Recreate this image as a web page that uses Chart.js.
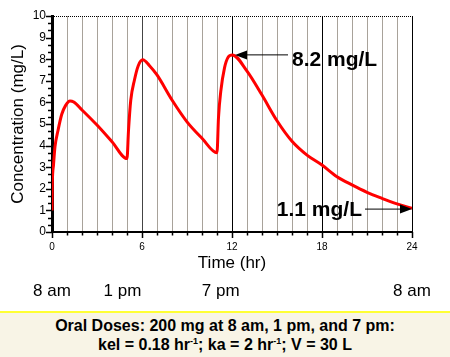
<!DOCTYPE html>
<html>
<head>
<meta charset="utf-8">
<script src="https://cdn.jsdelivr.net/npm/chart.js@4"></script>
<style>
  html, body { margin: 0; padding: 0; background: #ffffff; }
  body { width: 450px; height: 357px; position: relative; overflow: hidden; font-family: "Liberation Sans", Arial, Helvetica, sans-serif; }
  #wrap { position: absolute; left: 0; top: 0; width: 450px; height: 310px; }
  #box { position: absolute; left: 0; top: 311px; width: 450px; height: 46px; background: #f8f4e6; border-top: 2px solid #ffff33; box-sizing: border-box; text-align: center; font-weight: bold; font-size: 16px; line-height: 19px; color: #000; padding-top: 3px; }
  #box sup { font-size: 9px; vertical-align: 6px; line-height: 0; }
</style>
</head>
<body>
<div id="wrap"><canvas id="c" width="450" height="310"></canvas></div>
<div id="box">Oral Doses: 200 mg at 8 am, 1 pm, and 7 pm:<br>kel = 0.18 hr<sup>-1</sup>; ka = 2 hr<sup>-1</sup>; V = 30 L</div>
<script>
// ---- data ----
const timeHours = [0, 0.02, 0.1, 0.2, 0.4, 0.65, 0.9, 1.2, 1.45, 2, 3, 4, 5, 5.1, 5.25, 5.5, 5.75, 6.05, 6.5, 7, 8, 9, 10, 11, 11.1, 11.25, 11.5, 11.75, 12.02, 13, 14, 15, 16, 17, 18, 19, 20, 21, 22, 23, 24];
const concentration = [1.0, 2.2, 3.1, 3.95, 4.7, 5.45, 5.85, 6.07, 6.02, 5.65, 4.95, 4.18, 3.4, 4.7, 6.1, 7.05, 7.7, 7.97, 7.7, 7.27, 6.11, 5.1, 4.34, 3.67, 5.3, 6.5, 7.6, 8.1, 8.2, 7.45, 6.34, 5.15, 4.2, 3.56, 3.1, 2.56, 2.18, 1.84, 1.56, 1.3, 1.1];
const xTickLabelHours = [0, 6, 12, 18, 24];
const clockLabels = ["8 am", "1 pm", "7 pm", "8 am"];
const clockLabelHours = [0, 4.7, 11.25, 24];
const annotations = [
  { text: "8.2 mg/L", x: 12.2, y: 8.2, side: "right" },
  { text: "1.1 mg/L", x: 24, y: 1.06, side: "left" }
];

const FONT = '"Liberation Sans", Arial, Helvetica, sans-serif';

const points = timeHours.map((t, i) => ({ x: t, y: concentration[i] }));

function gridColor(ctx) {
  const v = ctx.tick && ctx.tick.value;
  if (v === 12 || v === 18 || v === 24) return '#000000';
  if (v === 6) return '#444444';
  return '#a8a29a';
}

const decorPlugin = {
  id: 'decor',
  afterDraw(chart) {
    const ctx = chart.ctx;
    const xs = chart.scales.x, ys = chart.scales.y;
    const a = chart.chartArea;
    ctx.save();
    // dotted top frame
    ctx.strokeStyle = '#000';
    ctx.lineWidth = 1;
    ctx.setLineDash([1, 1]);
    ctx.beginPath();
    ctx.moveTo(a.left, a.top + 0.5);
    ctx.lineTo(a.right, a.top + 0.5);
    ctx.stroke();
    ctx.setLineDash([]);
    // x tick marks
    ctx.lineWidth = 1.5;
    for (let h = 0; h <= 24; h++) {
      const px = Math.round(xs.getPixelForValue(h)) + 0.5;
      const len = (h % 6 === 0) ? 6 : 3.5;
      ctx.beginPath();
      ctx.moveTo(px, a.bottom);
      ctx.lineTo(px, a.bottom + len);
      ctx.stroke();
    }
    // y tick marks (major at integers, minor at thirds)
    for (let k = 0; k <= 30; k++) {
      const v = k / 3;
      const py = Math.round(ys.getPixelForValue(v)) + 0.5;
      const len = (k % 3 === 0) ? 6 : 4;
      ctx.beginPath();
      ctx.moveTo(a.left - len, py);
      ctx.lineTo(a.left, py);
      ctx.stroke();
    }
    // clock-time labels
    ctx.fillStyle = '#000';
    ctx.font = '17px ' + FONT;
    ctx.textAlign = 'center';
    ctx.textBaseline = 'middle';
    clockLabels.forEach((lab, i) => {
      ctx.fillText(lab, xs.getPixelForValue(clockLabelHours[i]), 291);
    });
    // annotations with arrows
    ctx.font = 'bold 21px ' + FONT;
    ctx.textBaseline = 'alphabetic';
    annotations.forEach(an => {
      const tx = xs.getPixelForValue(an.x);
      const ty = ys.getPixelForValue(an.y);
      const w = ctx.measureText(an.text).width;
      const headL = 12, headH = 4.5;
      ctx.lineWidth = 1;
      ctx.beginPath();
      if (an.side === 'right') {
        const lineEnd = tx + 53;
        ctx.moveTo(tx + headL, ty);
        ctx.lineTo(lineEnd, ty);
        ctx.stroke();
        ctx.beginPath();
        ctx.moveTo(tx, ty);
        ctx.lineTo(tx + headL, ty - headH);
        ctx.lineTo(tx + headL, ty + headH);
        ctx.closePath();
        ctx.fill();
        ctx.textAlign = 'left';
        ctx.fillText(an.text, lineEnd + 4, ty + 11);
      } else {
        const lineStart = tx - 47;
        ctx.moveTo(lineStart, ty);
        ctx.lineTo(tx - headL, ty);
        ctx.stroke();
        ctx.beginPath();
        ctx.moveTo(tx, ty);
        ctx.lineTo(tx - headL, ty - headH);
        ctx.lineTo(tx - headL, ty + headH);
        ctx.closePath();
        ctx.fill();
        ctx.textAlign = 'right';
        ctx.fillText(an.text, lineStart - 3, ty + 7);
      }
    });
    ctx.restore();
  }
};

new Chart(document.getElementById('c'), {
  type: 'line',
  data: {
    datasets: [{
      data: points,
      borderColor: '#ff0000',
      borderWidth: 3,
      pointRadius: 0,
      fill: false,
      cubicInterpolationMode: 'monotone'
    }]
  },
  options: {
    responsive: false,
    animation: false,
    events: [],
    layout: { padding: { top: 16, right: 38, left: 0, bottom: 0 } },
    plugins: { legend: { display: false }, tooltip: { enabled: false } },
    scales: {
      x: {
        type: 'linear',
        min: 0, max: 24,
        afterFit(s) { s.height = 78; },
        grid: { display: true, drawOnChartArea: true, drawTicks: false, color: gridColor, lineWidth: 1 },
        border: { display: true, color: '#000', width: 2 },
        ticks: {
          stepSize: 1, autoSkip: false, maxRotation: 0, padding: 9,
          color: '#000', font: { size: 10, family: FONT },
          callback: (v) => xTickLabelHours.includes(v) ? String(v) : ''
        },
        title: { display: true, text: 'Time (hr)', color: '#000', font: { size: 17, family: FONT }, padding: { top: 0, bottom: 36 } }
      },
      y: {
        type: 'linear',
        min: 0, max: 10,
        afterFit(s) { s.width = 52; },
        grid: { display: false, drawTicks: false },
        border: { display: true, color: '#000', width: 3 },
        ticks: { stepSize: 1, padding: 6, color: '#000', font: { size: 12, family: FONT } },
        title: { display: true, text: 'Concentration (mg/L)', color: '#000', font: { size: 17, family: FONT }, padding: { top: 8, bottom: 0 } }
      }
    }
  },
  plugins: [decorPlugin]
});
</script>
</body>
</html>
